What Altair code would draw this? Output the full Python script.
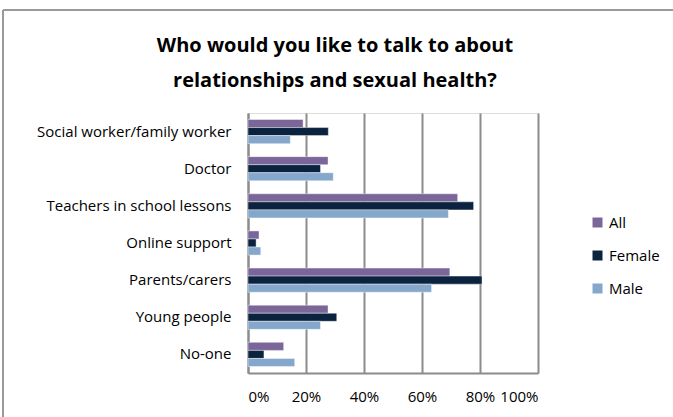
import altair as alt
import pandas as pd

categories = ["Social worker/family worker", "Doctor", "Teachers in school lessons",
              "Online support", "Parents/carers", "Young people", "No-one"]
series = ["All", "Female", "Male"]
all_vals = [19.0, 27.6, 72.3, 3.8, 69.6, 27.6, 12.3]
female_vals = [27.7, 25.0, 77.8, 2.8, 80.7, 30.6, 5.5]
male_vals = [14.6, 29.4, 69.1, 4.4, 63.3, 25.0, 16.1]
colors = ["#7A6699", "#0C2340", "#84A7CB"]
x_ticks = [0, 0.2, 0.4, 0.6, 0.8, 1.0]

rows = []
for i, c in enumerate(categories):
    for s, vals in zip(series, [all_vals, female_vals, male_vals]):
        rows.append({"category": c, "series": s, "value": vals[i] / 100})
df = pd.DataFrame(rows)

FONT = "Open Sans"

bars = alt.Chart(df).mark_bar(stroke="white", strokeWidth=0.6, strokeOpacity=0.7).encode(
    y=alt.Y("category:N", sort=categories,
            scale=alt.Scale(paddingInner=0.35, paddingOuter=0.175),
            axis=alt.Axis(title=None, labelFontSize=15, labelFont=FONT, labelColor="#000000",
                          labelPadding=17, ticks=False, domain=True, domainColor="#8c8c8c",
                          domainWidth=2, labelLimit=400)),
    yOffset=alt.YOffset("series:N", sort=series),
    x=alt.X("value:Q", scale=alt.Scale(domain=[0, 1], nice=False),
            axis=alt.Axis(title=None, format=".0%", values=x_ticks, labelFontSize=15,
                          labelFont=FONT, labelColor="#000000", labelPadding=16,
                          ticks=False, grid=True, gridColor="#8c8c8c", gridWidth=2,
                          domain=True, domainColor="#8c8c8c", domainWidth=2)),
    color=alt.Color("series:N", sort=series,
                    scale=alt.Scale(domain=series, range=colors),
                    legend=alt.Legend(title=None, orient="none", legendX=342, legendY=102,
                                      symbolType="square", symbolSize=100,
                                      symbolStrokeWidth=0, labelFontSize=15,
                                      labelFont=FONT, labelColor="#000000",
                                      rowPadding=17, labelOffset=4)),
)

one = pd.DataFrame({"a": [0]})
border_top = alt.Chart(one).mark_rule(color="#9a9a9a", strokeWidth=2).encode(
    x=alt.value(-245), x2=alt.value(430), y=alt.value(-103))
border_left = alt.Chart(one).mark_rule(color="#9a9a9a", strokeWidth=2).encode(
    x=alt.value(-245), y=alt.value(-103), y2=alt.value(310))

chart = alt.layer(bars, border_top, border_left).properties(
    width=290, height=260,
    title=alt.Title(["Who would you like to talk to about", "relationships and sexual health?"],
                    fontSize=20, font=FONT, fontWeight="bold", color="#000000",
                    anchor="middle", frame="group", dx=-58, offset=-82, lineHeight=35),
    autosize=alt.AutoSizeParams(type="none"),
    padding={"left": 248, "top": 113, "right": 135, "bottom": 44},
).configure_view(stroke=None).configure(background="white")

chart.save("out.html", embed_options={"renderer": "svg", "actions": False})
